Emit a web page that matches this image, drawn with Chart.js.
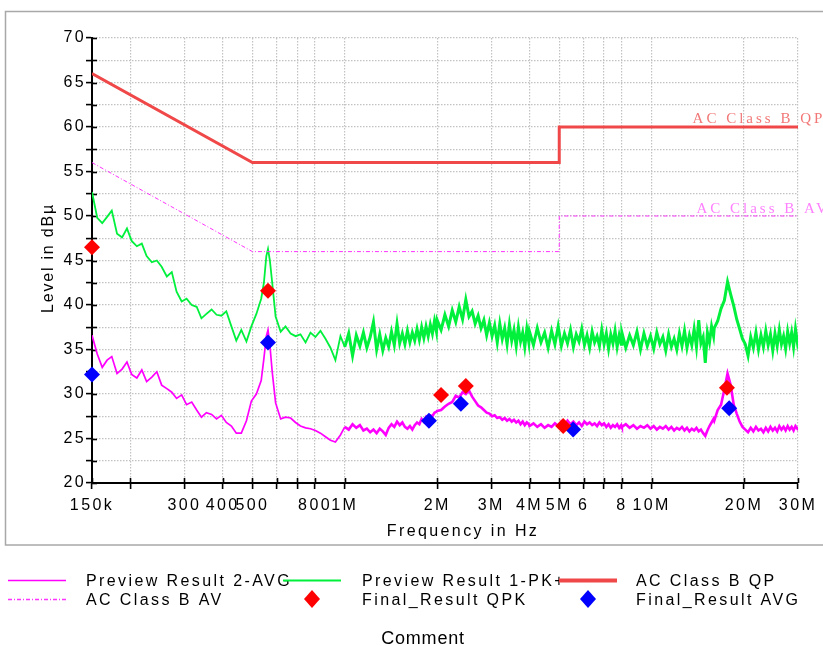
<!DOCTYPE html>
<html><head><meta charset="utf-8">
<script src="https://cdn.jsdelivr.net/npm/chart.js@4/dist/chart.umd.min.js"></script>
<style>html,body{margin:0;padding:0;background:#fff;overflow:hidden}</style>
</head><body>
<canvas id="c" width="823" height="646"></canvas>
<script>
// ---- data (frequency in MHz, level in dBµV) ----
const freqMHz = [
 0.150,0.156,0.162,0.168,0.174,0.181,0.188,0.195,0.202,0.210,
 0.218,0.226,0.235,0.244,0.253,0.263,0.273,0.283,0.294,0.305,
 0.317,0.329,0.341,0.354,0.368,0.382,0.396,0.411,0.427,0.443,
 0.460,0.478,0.496,0.515,0.534,0.545,0.555,0.562,0.570,0.580,
 0.595,0.618,0.641,0.666,0.691,0.717,0.745,0.773,0.802,0.833,
 0.865,0.898,0.932,0.968,
 1.00,1.03,1.06,1.09,1.12,1.15,1.18,1.21,1.24,1.27,1.30,1.33,1.36,1.39,1.42,1.45,1.48,
 1.51,1.54,1.57,1.60,1.63,1.66,1.69,1.72,1.75,1.78,1.81,1.84,1.87,1.90,1.93,1.96,1.99,
 2.00,2.06,2.12,2.18,2.24,2.30,2.36,2.42,2.48,2.54,2.60,2.66,2.72,2.78,2.84,2.90,2.96,
 3.02,3.08,3.14,3.20,3.26,3.32,3.38,3.44,3.50,3.56,3.62,3.68,3.74,3.80,3.86,3.92,3.98,
 4.00,4.12,4.24,4.36,4.48,4.60,4.72,4.84,4.96,5.08,5.20,5.32,5.44,5.56,5.68,5.80,5.92,
 6.04,6.16,6.28,6.40,6.52,6.64,6.76,6.88,7.00,7.12,7.24,7.36,7.48,7.60,7.72,7.84,7.96,
 8.00,8.24,8.48,8.72,8.96,9.20,9.44,9.68,9.92,10.16,10.40,10.64,10.88,11.12,11.36,11.60,11.84,
 12.08,12.32,12.56,12.80,13.04,13.28,13.52,13.76,14.00,14.24,14.48,14.72,14.96,15.20,15.44,15.68,15.92,
 16.00,16.42,16.84,17.26,17.68,18.10,18.52,18.94,19.36,19.78,20.20,20.62,21.04,21.46,21.88,22.30,22.72,
 23.14,23.56,23.98,24.40,24.82,25.24,25.66,26.08,26.50,26.92,27.34,27.76,28.18,28.60,29.02,29.44,29.86,30.00
];
const pkLevel = [
 52.7,49.8,49.2,49.9,50.6,48.0,47.6,48.6,47.2,46.6,
 46.9,45.5,44.8,45.0,44.3,43.2,43.7,41.5,40.4,40.7,
 40.0,39.8,38.5,39.0,39.5,38.9,38.8,39.3,37.6,36.0,
 37.2,35.9,37.6,39.0,40.7,42.5,45.5,46.3,45.0,42.5,
 38.7,37.0,37.6,36.8,36.5,36.7,35.8,36.9,36.4,37.1,
 36.2,35.2,33.8,36.5,
 35.3,36.8,34.3,36.6,35.4,36.9,35.2,36.4,38.1,35.0,36.7,34.9,36.3,35.3,37.0,35.5,37.9,
 35.7,36.8,35.6,37.1,35.8,36.9,36.0,37.3,36.1,37.5,36.3,37.6,36.5,37.8,36.8,38.2,37.0,
 38.3,37.2,38.9,37.6,39.4,38.1,39.8,38.4,40.6,38.7,39.3,37.9,38.8,37.4,38.3,36.6,38.0,
 36.5,37.7,35.8,37.9,36.2,37.4,35.6,37.8,36.0,37.2,35.4,37.5,35.9,36.9,35.3,37.3,35.8,
 37.0,35.5,37.4,35.8,36.9,35.2,37.1,35.6,37.6,35.4,36.8,35.7,37.2,35.3,36.7,35.9,37.3,
 35.5,36.6,35.2,37.0,35.8,36.5,35.4,37.2,35.6,36.8,35.1,36.7,35.7,37.1,35.3,36.6,35.6,
 36.9,35.2,36.6,35.5,37.0,35.0,36.8,35.4,36.5,35.1,36.9,35.6,36.4,34.9,36.7,35.3,36.2,
 35.0,36.8,35.4,37.1,35.2,36.6,35.5,37.3,35.3,38.3,35.7,36.4,33.5,36.9,35.8,37.6,36.5,
 37.4,38.2,39.6,40.5,42.6,41.2,39.9,38.4,37.3,36.2,35.6,34.3,36.4,35.2,36.9,35.0,36.6,
 35.3,37.1,35.5,36.7,34.9,36.8,35.4,37.2,35.6,36.5,35.1,37.0,35.7,36.9,35.3,37.3,35.8,36.2
];
const avgLevel = [
 36.6,34.5,33.0,33.8,34.2,32.3,32.8,33.6,32.2,31.8,
 32.7,31.4,31.9,32.5,31.0,30.6,30.2,29.5,29.9,28.8,
 29.1,28.2,27.4,27.9,27.7,27.2,27.6,26.8,26.4,25.6,
 25.6,27.0,29.2,30.0,31.5,34.0,36.5,37.2,35.5,32.5,
 29.0,27.2,27.4,27.3,26.8,26.4,26.2,26.1,25.9,25.6,
 25.2,24.8,24.6,25.4,
 26.3,26.0,26.6,26.2,26.5,25.9,26.1,25.7,26.0,25.6,26.1,25.8,25.4,26.2,26.6,26.3,26.9,
 26.5,26.8,26.3,26.1,26.4,26.0,26.5,26.8,26.6,27.2,26.9,27.4,27.0,27.6,27.5,27.9,28.0,
 28.1,28.2,28.6,28.9,29.1,29.8,29.6,30.2,30.0,30.4,29.7,29.2,28.7,28.5,28.2,27.9,27.8,
 27.5,27.6,27.3,27.4,27.1,27.3,27.0,27.2,26.9,27.1,26.8,27.0,26.6,26.9,26.5,26.8,26.6,
 26.4,26.7,26.3,26.6,26.2,26.5,26.3,26.7,26.4,26.9,26.5,27.0,26.6,26.9,26.5,26.8,26.4,
 26.9,26.6,26.8,26.5,26.7,26.4,26.8,26.5,26.7,26.3,26.6,26.2,26.5,26.3,26.6,26.2,26.5,
 26.3,26.6,26.2,26.5,26.1,26.4,26.2,26.5,26.1,26.4,26.0,26.3,26.1,26.4,26.0,26.3,25.9,
 26.2,26.0,26.3,25.9,26.2,25.8,26.1,25.9,26.2,25.8,26.0,25.6,25.3,25.9,26.4,26.8,27.2,
 27.0,28.2,28.8,30.5,32.3,31.0,28.8,27.8,26.9,26.3,26.0,25.7,26.2,25.8,26.3,25.9,26.1,
 25.7,26.2,25.8,26.3,25.9,26.2,25.8,26.4,26.0,26.3,25.9,26.4,26.0,26.3,25.9,26.4,26.1,26.2
];
const limitFreq = [0.15, 0.5, 5, 5, 30];
const qpLimit = [66, 56, 56, 60, 60];
const avLimit = [56, 46, 46, 50, 50];
const qpkFreq = [0.15, 0.562, 2.06, 2.48, 5.15, 17.6];
const qpkLevel = [46.5, 41.6, 29.9, 30.9, 26.4, 30.7];
const avgMarkFreq = [0.15, 0.562, 1.88, 2.39, 5.55, 17.9];
const avgMarkLevel = [32.2, 35.8, 27.0, 28.9, 26.0, 28.4];
const xTickValues = [0.15,0.2,0.3,0.4,0.5,0.6,0.7,0.8,1,2,3,4,5,6,7,8,10,20,30];
const xTickLabels = ['150k','','300','400','500','','','800','1M','2M','3M','4M','5M','6','','8','10M','20M','30M'];
const yTickValues = [20,22.5,25,27.5,30,32.5,35,37.5,40,42.5,45,47.5,50,52.5,55,57.5,60,62.5,65,67.5,70];
const seriesNames = ['Preview Result 2-AVG','Preview Result 1-PK+','AC Class B QP','AC Class B AV','Final_Result QPK','Final_Result AVG'];
const xTitle = 'Frequency in Hz';
const yTitle = 'Level in dBµ';
const footText = 'Comment';

const pts = (xs, ys) => xs.map((x, i) => ({x: x, y: ys[i]}));
const SANS = "'Liberation Sans', Arial, sans-serif";
const SERIF = "'Liberation Serif', 'Times New Roman', serif";
const SPACING = '2.4px';

const custom = {
  id: 'custom',
  beforeDraw(chart) {
    const c = chart.ctx;
    c.save();
    c.fillStyle = '#fff';
    c.fillRect(0, 0, chart.width, chart.height);
    c.strokeStyle = '#a8a8a8';
    c.lineWidth = 1.5;
    c.strokeRect(5.5, 11.5, 900, 533.5);
    c.restore();
    c.letterSpacing = SPACING;
  },
  beforeDatasetsDraw(chart) {
    const c = chart.ctx, xs = chart.scales.x, ys = chart.scales.y, a = chart.chartArea;
    c.save();
    c.strokeStyle = '#000';
    c.lineWidth = 1.6;
    xs.ticks.forEach(t => {
      const px = Math.round(xs.getPixelForValue(t.value)) + 0.5;
      c.beginPath(); c.moveTo(px, a.bottom); c.lineTo(px, a.bottom - 5); c.stroke();
    });
    ys.ticks.forEach(t => {
      const py = Math.round(ys.getPixelForValue(t.value)) + 0.5;
      c.beginPath(); c.moveTo(a.left, py); c.lineTo(a.left + 5, py); c.stroke();
    });
    c.restore();
  },
  afterDraw(chart) {
    const c = chart.ctx, xs = chart.scales.x, ys = chart.scales.y;
    const ds = chart.data.datasets;
    c.save();
    // limit line labels
    c.font = '15px ' + SERIF;
    c.letterSpacing = '3px';
    c.textAlign = 'left';
    c.textBaseline = 'alphabetic';
    c.fillStyle = '#f27878';
    c.fillText(ds[2].label, xs.getPixelForValue(13.6), ys.getPixelForValue(60) - 4);
    c.fillStyle = '#ff80ff';
    c.fillText(ds[3].label, xs.getPixelForValue(14.0), ys.getPixelForValue(50) - 3);
    // axis titles
    c.fillStyle = '#000';
    c.font = '16px ' + SANS;
    c.letterSpacing = SPACING;
    c.textAlign = 'center';
    c.fillText(xTitle, 463, 536);
    c.save();
    c.translate(53, 258);
    c.rotate(-Math.PI / 2);
    c.letterSpacing = '1.8px';
    c.fillText(yTitle, 0, 0);
    c.restore();
    // legend (3 columns x 2 rows)
    const lineX = [8, 283, 559], textX = [86, 362, 636], rowY = [580, 599];
    ds.forEach((d, i) => {
      const col = i % 3, row = Math.floor(i / 3);
      const y = rowY[row], x0 = lineX[col];
      if (d.showLine === false) {
        const cx = x0 + 29;
        c.fillStyle = d.backgroundColor;
        c.beginPath();
        c.moveTo(cx, y - 9); c.lineTo(cx + 8, y); c.lineTo(cx, y + 9); c.lineTo(cx - 8, y);
        c.closePath(); c.fill();
      } else {
        c.save();
        c.strokeStyle = d.borderColor;
        c.lineWidth = d.legendWidth;
        c.setLineDash(d.borderDash || []);
        c.beginPath(); c.moveTo(x0, y + 0.5); c.lineTo(x0 + 58, y + 0.5); c.stroke();
        c.restore();
      }
      c.fillStyle = '#000';
      c.font = '16px ' + SANS;
      c.letterSpacing = SPACING;
      c.textAlign = 'left';
      c.fillText(d.label, textX[col], y + 6);
    });
    c.font = '18px ' + SANS;
    c.letterSpacing = '0.8px';
    c.textAlign = 'center';
    c.fillText(footText, 423, 644);
    c.restore();
  }
};

// thicker strokes where the receiver sweep is dense (above 1 MHz)
const denseWidth = (thin, thick) => ({borderWidth: s => (s.p0.parsed.x >= 1 ? thick : thin)});

const tickFont = {family: SANS, size: 16};
const gridOpts = {color: '#c2c2c2', lineWidth: 1.2, tickLength: 6, tickColor: '#000', tickWidth: 1.6, tickBorderDash: []};
const borderOpts = {display: true, color: '#000', width: 2, dash: [1.5, 1.5]};
new Chart(document.getElementById('c'), {
  type: 'line',
  data: {
    datasets: [
      {label: seriesNames[0], data: pts(freqMHz, avgLevel), borderColor: '#ff00ff', borderWidth: 1.7, segment: denseWidth(1.7, 2.6), legendWidth: 1.5, pointRadius: 0, order: 4},
      {label: seriesNames[1], data: pts(freqMHz, pkLevel), borderColor: '#00f03c', borderWidth: 1.8, segment: denseWidth(1.8, 3), legendWidth: 2, pointRadius: 0, order: 3},
      {label: seriesNames[2], data: pts(limitFreq, qpLimit), borderColor: '#f04848', borderWidth: 3, legendWidth: 4, pointRadius: 0, order: 1},
      {label: seriesNames[3], data: pts(limitFreq, avLimit), borderColor: '#ff33ff', borderWidth: 1, legendWidth: 1.5, borderDash: [4, 2, 1, 2], pointRadius: 0, order: 2},
      {label: seriesNames[4], data: pts(qpkFreq, qpkLevel), showLine: false, pointStyle: 'rectRot', pointRadius: 8, pointBorderWidth: 0, backgroundColor: '#ff0000', borderColor: '#ff0000', clip: false, order: 0},
      {label: seriesNames[5], data: pts(avgMarkFreq, avgMarkLevel), showLine: false, pointStyle: 'rectRot', pointRadius: 8, pointBorderWidth: 0, backgroundColor: '#0000ff', borderColor: '#0000ff', clip: false, order: 0}
    ]
  },
  options: {
    responsive: false,
    animation: false,
    events: [],
    layout: {padding: {left: 0, top: 38, right: 25, bottom: 93}},
    plugins: {legend: {display: false}, tooltip: {enabled: false}},
    scales: {
      x: {
        type: 'logarithmic', min: 0.15, max: 30,
        afterBuildTicks: s => { s.ticks = xTickValues.map(v => ({value: v})); },
        afterFit: s => { s.height = 70; },
        ticks: {autoSkip: false, maxRotation: 0, minRotation: 0, padding: 7, color: '#000', font: tickFont,
                callback: (v, i) => xTickLabels[i]},
        grid: gridOpts,
        border: borderOpts
      },
      y: {
        type: 'linear', min: 20, max: 70,
        afterBuildTicks: s => { s.ticks = yTickValues.map(v => ({value: v})); },
        afterFit: s => { s.width = 92; },
        ticks: {autoSkip: false, padding: 0, color: '#000', font: tickFont,
                callback: v => (v % 5 === 0 ? String(v) : '')},
        grid: gridOpts,
        border: borderOpts
      }
    }
  },
  plugins: [custom]
});
</script>
</body></html>
